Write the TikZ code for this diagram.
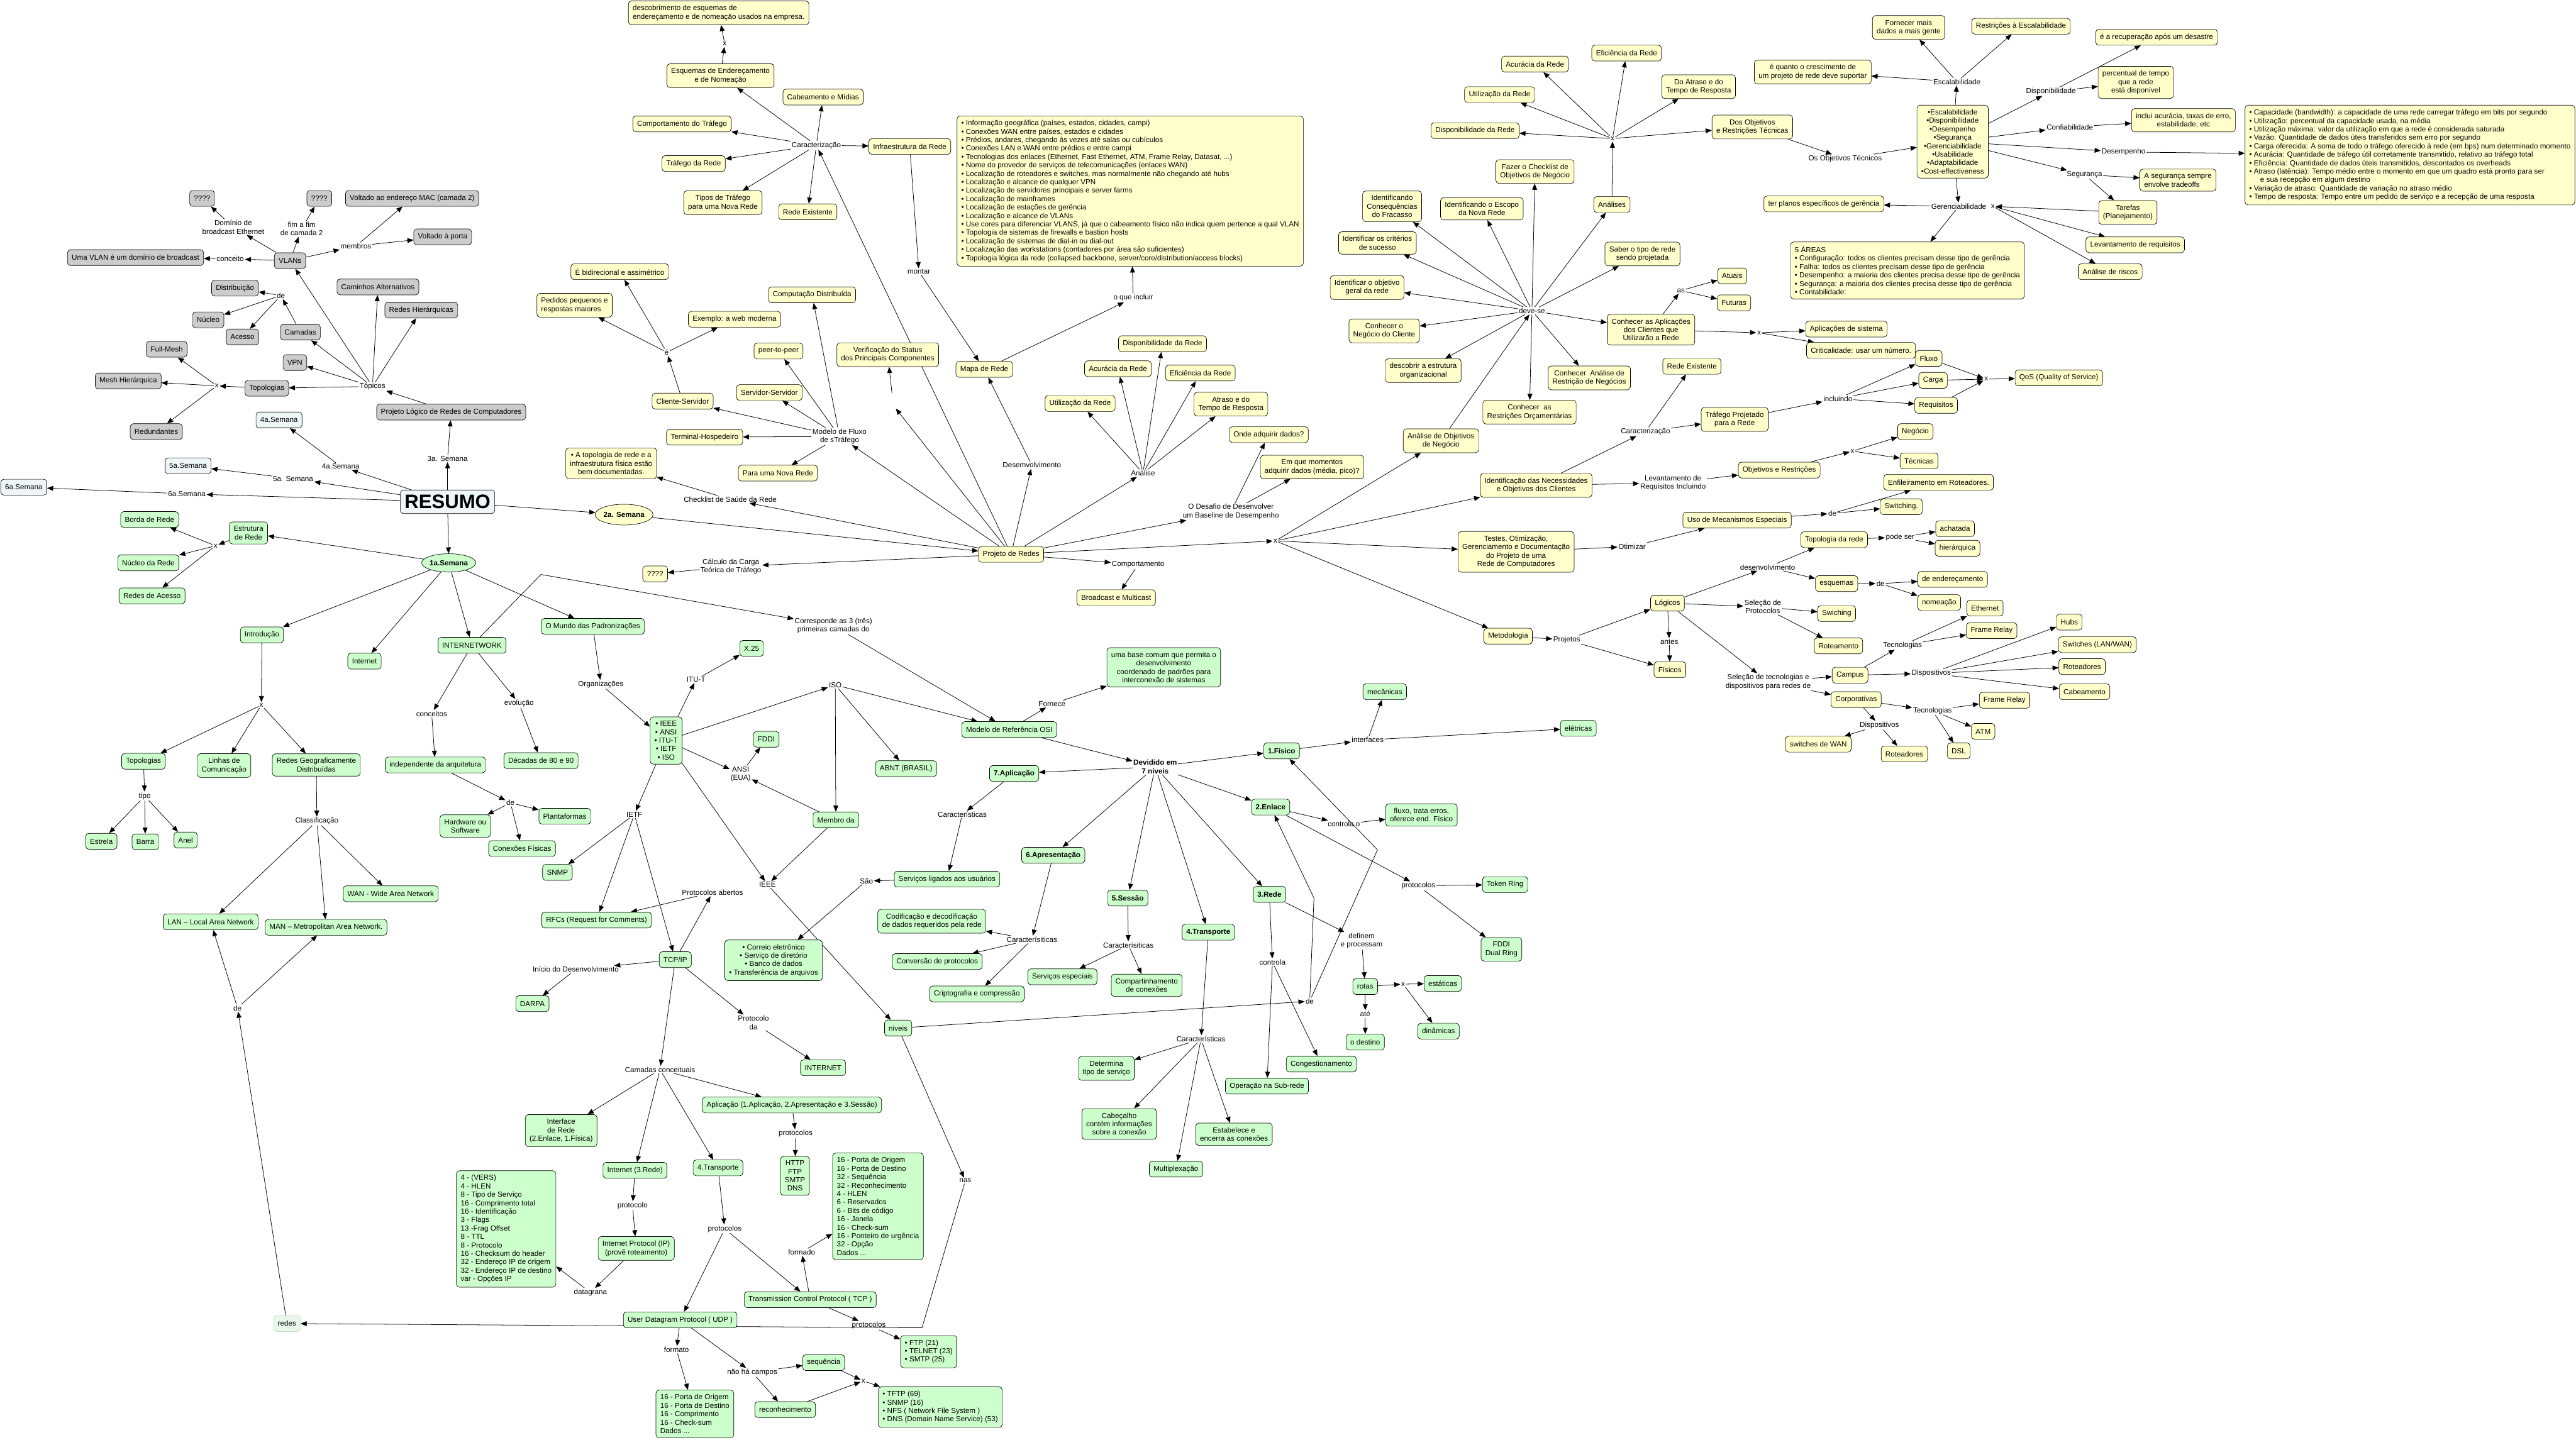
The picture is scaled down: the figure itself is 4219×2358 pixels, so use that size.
\documentclass[tikz,border=0pt]{standalone}
\usepackage{fontspec}
\setmainfont{Liberation Sans}
\usetikzlibrary{
  arrows.meta,
  positioning,
  shapes.geometric,
  backgrounds,
}
\definecolor{grayfill}{RGB}{204,204,204}
\definecolor{yellowfill}{RGB}{255,255,204}
\definecolor{greenfill}{RGB}{204,255,204}
\definecolor{weekfill}{RGB}{238,246,248}
\definecolor{redesfill}{RGB}{232,246,236}
\definecolor{redesdraw}{RGB}{196,228,206}
\newcommand{\mapfont}{\fontsize{12}{13.8}\selectfont}
\tikzset{
  concept/.style={
    rectangle, draw=black, line width=0.7pt, rounded corners=5pt,
    font=\mapfont, align=center, inner xsep=7pt, inner ysep=7pt,
    minimum height=26pt
  },
  grayconcept/.style={concept, fill=grayfill},
  yellowconcept/.style={concept, fill=yellowfill},
  greenconcept/.style={concept, fill=greenfill},
  weekconcept/.style={concept, fill=weekfill},
  layerconcept/.style={greenconcept, font=\mapfont\bfseries},
  weekellipse/.style={
    ellipse, draw=black, line width=0.7pt,
    font=\mapfont\bfseries, inner sep=0pt
  },
  redesnode/.style={concept, fill=redesfill, draw=redesdraw},
  phrase/.style={font=\mapfont, align=center, inner sep=1.5pt},
  link/.style={-{Triangle[length=10pt, width=8pt]}, line width=0.8pt},
}

\begin{document}
\begin{tikzpicture}[x=1pt, y=-1pt]

  \useasboundingbox (0,0) rectangle (4219,2358);

  % ── RESUMO and the weeks ──
  \node[weekconcept, font=\fontsize{32}{36}\selectfont\bfseries, inner ysep=8pt] (resumo) at (733,822) {RESUMO};
  \node[weekellipse, fill=yellowfill, minimum width=94pt, minimum height=34pt] (sem2) at (1022,843) {2a. Semana};
  \node[weekellipse, fill=greenfill, minimum width=82pt, minimum height=30pt] (sem1) at (735,922) {1a.Semana};
  \node[weekconcept] (sem4) at (457,688) {4a.Semana};
  \node[weekconcept] (sem5) at (308,763) {5a.Semana};
  \node[weekconcept] (sem6) at (39,798) {6a.Semana};
  \node[phrase] (l3sem) at (733,751) {3a. Semana};
  \node[phrase] (l4sem) at (558,764) {4a.Semana};
  \node[phrase] (l5sem) at (480,784) {5a. Semana};
  \node[phrase] (l6sem) at (306,809) {6a.Semana};

  % ── 3a. Semana: projeto logico (gray) ──
  \node[grayconcept] (plogico) at (739,675) {Projeto Lógico de Redes de Computadores};
  \node[phrase] (topicos) at (610,633) {Tópicos};
  \node[grayconcept] (vlans) at (475,427) {VLANs};
  \node[phrase] (lconceito) at (377,424) {conceito};
  \node[grayconcept] (vlandom) at (222,422) {Uma VLAN é um domínio de broadcast};
  \node[phrase] (ldominio) at (382,372) {Domínio de\\broadcast Ethernet};
  \node[grayconcept] (q1) at (331,325) {????};
  \node[phrase] (lfim) at (494,375) {fim a fim\\de camada 2};
  \node[grayconcept] (q2) at (523,325) {????};
  \node[phrase] (lmembros) at (583,403) {membros};
  \node[grayconcept] (vmac) at (675,325) {Voltado ao endereço MAC (camada 2)};
  \node[grayconcept] (vporta) at (725,388) {Voltado à porta};
  \node[grayconcept] (camadas) at (492,544) {Camadas};
  \node[phrase] (lcamde) at (460,484) {de};
  \node[grayconcept] (distrib) at (385,472) {Distribuição};
  \node[grayconcept] (nucleo) at (341,524) {Núcleo};
  \node[grayconcept] (acesso) at (397,552) {Acesso};
  \node[grayconcept] (caminhos) at (619,470) {Caminhos Alternativos};
  \node[grayconcept] (redhier) at (690,508) {Redes Hierárquicas};
  \node[grayconcept] (vpn) at (483,594) {VPN};
  \node[grayconcept] (topol) at (437,636) {Topologias};
  \node[phrase] (ltopx) at (355,632) {x};
  \node[grayconcept] (fullmesh) at (273,572) {Full-Mesh};
  \node[grayconcept] (meshhier) at (210,624) {Mesh Hierárquica};
  \node[grayconcept] (redund) at (256,707) {Redundantes};

  % ── 1a. Semana: fundamentos (green) ──
  \node[greenconcept] (estrut) at (407,873) {Estrutura\\de Rede};
  \node[phrase] (lestx) at (353,894) {x};
  \node[greenconcept] (borda) at (245,851) {Borda de Rede};
  \node[greenconcept] (nucrede) at (243,922) {Núcleo da Rede};
  \node[greenconcept] (redacesso) at (249,976) {Redes de Acesso};
  \node[greenconcept] (intro) at (429,1040) {Introdução};
  \node[greenconcept] (internet) at (597,1083) {Internet};
  \node[greenconcept] (internetw) at (773,1057) {INTERNETWORK};
  \node[greenconcept] (mundo) at (971,1026) {O Mundo das Padronizações};
  \node[phrase] (lintx) at (428,1155) {x};
  \node[greenconcept] (topogreen) at (235,1247) {Topologias};
  \node[greenconcept] (linhas) at (367,1254) {Linhas de\\Comunicação};
  \node[greenconcept] (redgeo) at (518,1253) {Redes Geograficamente\\Distribuídas};
  \node[phrase] (ltipo) at (237,1304) {tipo};
  \node[greenconcept] (estrela) at (166,1378) {Estrela};
  \node[greenconcept] (barra) at (238,1379) {Barra};
  \node[greenconcept] (anel) at (304,1376) {Anel};
  \node[phrase] (lclass) at (519,1345) {Classificação};
  \node[greenconcept] (lan) at (345,1510) {LAN – Local Area Network};
  \node[greenconcept] (man) at (534,1519) {MAN – Metropolitan Area Network.};
  \node[greenconcept] (wan) at (640,1464) {WAN - Wide Area Network};
  \node[phrase] (lconceitos) at (707,1169) {conceitos};
  \node[greenconcept] (indep) at (713,1253) {independente da arquitetura};
  \node[phrase] (lindde) at (836,1315) {de};
  \node[greenconcept] (hardw) at (762,1353) {Hardware ou\\Software};
  \node[greenconcept] (plataf) at (925,1337) {Plantaformas};
  \node[greenconcept] (conexf) at (855,1390) {Conexões Físicas};
  \node[phrase] (levol) at (850,1152) {evolução};
  \node[greenconcept] (decadas) at (886,1246) {Décadas de 80 e 90};
  \node[phrase] (lorgs) at (984,1121) {Organizações};
  \node[greenconcept] (orgs) at (1091,1213) {• IEEE\\• ANSI\\• ITU-T\\• IETF\\• ISO};
  \node[phrase] (litut) at (1140,1113) {ITU-T};
  \node[greenconcept] (x25) at (1231,1062) {X.25};
  \node[phrase] (liso) at (1368,1122) {ISO};
  \node[phrase] (lansi) at (1213,1268) {ANSI\\(EUA)};
  \node[greenconcept] (fddi) at (1255,1211) {FDDI};
  \node[greenconcept] (abnt) at (1484,1259) {ABNT (BRASIL)};
  \node[greenconcept] (membro) at (1369,1343) {Membro da};
  \node[phrase] (lieee) at (1257,1449) {IEEE};
  \node[phrase] (lietf) at (1039,1334) {IETF};
  \node[greenconcept] (snmp) at (913,1429) {SNMP};
  \node[greenconcept] (rfcs) at (977,1507) {RFCs (Request for Comments)};
  \node[greenconcept] (tcpip) at (1106,1572) {TCP/IP};
  \node[phrase] (lprotab) at (1167,1462) {Protocolos abertos};
  \node[phrase] (linicio) at (943,1588) {Início do Desenvolvimento};
  \node[greenconcept] (darpa) at (872,1644) {DARPA};
  \node[phrase] (lprotda) at (1234,1675) {Protocolo\\da};
  \node[greenconcept] (internetcap) at (1348,1749) {INTERNET};
  \node[phrase] (lcamconc) at (1081,1752) {Camadas conceituais};
  \node[greenconcept] (ifrede) at (919,1852) {Interface\\de Rede\\(2.Enlace, 1.Física)};
  \node[greenconcept] (inet3) at (1040,1917) {Internet (3.Rede)};
  \node[greenconcept] (transp4) at (1176,1913) {4.Transporte};
  \node[greenconcept] (aplic) at (1297,1810) {Aplicação (1.Aplicação, 2.Apresentação e 3.Sessão)};
  \node[phrase] (lprotsap) at (1303,1857) {protocolos};
  \node[greenconcept] (httpbox) at (1302,1926) {HTTP\\FTP\\SMTP\\DNS};
  \node[phrase] (lprotoip) at (1036,1975) {protocolo};
  \node[greenconcept] (ipproto) at (1042,2045) {Internet Protocol (IP)\\(provê roteamento)};
  \node[phrase] (ldatag) at (967,2117) {datagrana};
  \node[greenconcept, align=left] (ipheader) at (829,2013) {4 - (VERS)\\4 - HLEN\\8 - Tipo de Serviço\\16 - Comprimento total\\16 - Identificação\\3 - Flags\\13 -Frag Offset\\8 - TTL\\8 - Protocolo\\16 - Checksum do header\\32 - Endereço IP de origem\\32 - Endereço IP de destino\\var - Opções IP};
  \node[phrase] (lprotstr) at (1187,2013) {protocolos};
  \node[greenconcept] (tcp) at (1327,2129) {Transmission Control Protocol ( TCP )};
  \node[greenconcept] (udp) at (1114,2162) {User Datagram Protocol ( UDP )};
  \node[phrase] (lformado) at (1313,2051) {formado};
  \node[greenconcept, align=left] (tcpheader) at (1438,1976) {16 - Porta de Origem\\16 - Porta de Destino\\32 - Sequência\\32 - Reconhecimento\\4 - HLEN\\6 - Reservados\\6 - Bits de código\\16 - Janela\\16 - Check-sum\\16 - Ponteiro de urgência\\32 - Opção\\Dados ...};
  \node[phrase] (lprottcp) at (1423,2171) {protocolos};
  \node[greenconcept, align=left] (ftpbox) at (1521,2214) {• FTP (21)\\• TELNET (23)\\• SMTP (25)};
  \node[phrase] (lformato) at (1108,2211) {formato};
  \node[greenconcept, align=left] (udpheader) at (1138,2316) {16 - Porta de Origem\\16 - Porta de Destino\\16 - Comprimento\\16 - Check-sum\\Dados ...};
  \node[phrase] (lnaoha) at (1232,2248) {não há campos};
  \node[greenconcept] (seq) at (1349,2232) {sequência};
  \node[greenconcept] (recon) at (1286,2309) {reconhecimento};
  \node[phrase] (lseqx) at (1414,2262) {x};
  \node[greenconcept, align=left] (tftpbox) at (1540,2305) {• TFTP (69)\\• SNMP (16)\\• NFS ( Network File System )\\• DNS (Domain Name Service) (53)};
  \node[redesnode] (redes) at (470,2168) {redes};
  \node[phrase] (lredesde) at (389,1651) {de};

  % ── Modelo OSI and its seven layers ──
  \node[phrase] (lcorresp) at (1365,1025) {Corresponde as 3 (três)\\primeiras camadas do};
  \node[greenconcept] (osi) at (1653,1195) {Modelo de Referência OSI};
  \node[phrase] (lfornece) at (1723,1153) {Fornece};
  \node[greenconcept] (basecomum) at (1906,1093) {uma base comum que permita o\\desenvolvimento\\coordenado de padrões para\\interconexão de sistemas};
  \node[phrase, font=\mapfont\bfseries] (ldivid) at (1892,1256) {Devidido em\\7 níveis};
  \node[layerconcept] (apl7) at (1661,1267) {7.Aplicação};
  \node[phrase] (lcar7) at (1576,1334) {Características};
  \node[greenconcept] (servusu) at (1551,1440) {Serviços ligados aos usuários};
  \node[phrase] (lsao) at (1419,1443) {São};
  \node[greenconcept] (correio) at (1267,1573) {• Correio eletrônico\\• Serviço de diretório\\• Banco de dados\\• Transferência de arquivos};
  \node[layerconcept] (apr6) at (1725,1401) {6.Apresentação};
  \node[phrase] (lcar6) at (1690,1539) {Caracterísiticas};
  \node[greenconcept] (codif) at (1526,1509) {Codificação e decodificação\\de dados requeridos pela rede};
  \node[greenconcept] (convprot) at (1535,1575) {Conversão de protocolos};
  \node[greenconcept] (cripto) at (1600,1628) {Criptografia e compressão};
  \node[layerconcept] (ses5) at (1847,1471) {5.Sessão};
  \node[phrase] (lcar5) at (1848,1548) {Caracterísiticas};
  \node[greenconcept] (servesp) at (1740,1600) {Serviços especiais};
  \node[greenconcept] (compart) at (1878,1614) {Compartinhamento\\de conexões};
  \node[layerconcept] (tra4) at (1979,1527) {4.Transporte};
  \node[phrase] (lcar4) at (1967,1702) {Características};
  \node[greenconcept] (determ) at (1812,1750) {Determina\\tipo de serviço};
  \node[greenconcept] (cabec) at (1833,1841) {Cabeçalho\\contém informações\\sobre a conexão};
  \node[greenconcept] (multip) at (1926,1915) {Multiplexação};
  \node[greenconcept] (estab) at (2021,1858) {Estabelece e\\encerra as conexões};
  \node[layerconcept] (red3) at (2079,1465) {3.Rede};
  \node[phrase] (lcontrola) at (2084,1576) {controla};
  \node[greenconcept] (opsub) at (2075,1779) {Operação na Sub-rede};
  \node[greenconcept] (congest) at (2164,1743) {Congestionamento};
  \node[phrase] (ldefinem) at (2230,1541) {definem\\e processam};
  \node[greenconcept] (rotas) at (2236,1616) {rotas};
  \node[phrase] (lrotx) at (2298,1612) {x};
  \node[greenconcept] (estat) at (2363,1611) {estáticas};
  \node[greenconcept] (dinam) at (2356,1689) {dinâmicas};
  \node[phrase] (late) at (2236,1661) {até};
  \node[greenconcept] (destino) at (2236,1707) {o destino};
  \node[greenconcept] (niveis) at (1471,1684) {niveis};
  \node[phrase] (lnas) at (1581,1934) {nas};
  \node[phrase] (lnivde) at (2145,1640) {de};
  \node[layerconcept] (fis1) at (2099,1230) {1.Físico};
  \node[phrase] (linterf) at (2240,1212) {interfaces};
  \node[greenconcept] (mecan) at (2268,1133) {mecânicas};
  \node[greenconcept] (eletr) at (2585,1193) {elétricas};
  \node[layerconcept] (enl2) at (2081,1322) {2.Enlace};
  \node[phrase] (lcontrolao) at (2201,1350) {controla o};
  \node[greenconcept] (fluxo) at (2328,1335) {fluxo, trata erros,\\oferece end. Físico};
  \node[phrase] (lprotenl) at (2323,1451) {protocolos};
  \node[greenconcept] (token) at (2465,1449) {Token Ring};
  \node[greenconcept] (fddiring) at (2459,1555) {FDDI\\Dual Ring};

  % ── 2a. Semana: projeto de redes (yellow) ──
  \node[yellowconcept] (projredes) at (1656,908) {Projeto de Redes};
  \node[phrase] (lcheck) at (1196,818) {Checklist de Saúde da Rede};
  \node[yellowconcept] (topodoc) at (1001,759) {• A topologia de rede e a\\infraestrutura física estão\\bem documentadas.};
  \node[phrase] (lcalc) at (1197,928) {Cálculo da Carga\\Teórica de Tráfego};
  \node[yellowconcept] (q3) at (1073,940) {????};
  \node[phrase] (lcomport) at (1864,925) {Comportamento};
  \node[yellowconcept] (broadc) at (1828,979) {Broadcast e Multicast};
  \node[phrase] (ldesafio) at (2016,838) {O Desafio de Desenvolver\\um Baseline de Desempenho};
  \node[yellowconcept] (onde) at (2078,712) {Onde adquirir dados?};
  \node[yellowconcept] (emque) at (2149,765) {Em que momentos\\adquirir dados (média, pico)?};
  \node[phrase] (lprojx) at (2089,886) {x};
  \node[phrase] (ldesenv) at (1690,762) {Desemvolvimento};
  \node[yellowconcept] (mapa) at (1612,605) {Mapa de Rede};
  \node[phrase] (lanalise) at (1872,775) {Análise};
  \node[yellowconcept] (utiliz) at (1769,661) {Utilização da Rede};
  \node[yellowconcept] (acur) at (1831,604) {Acurácia da Rede};
  \node[yellowconcept] (dispon) at (1904,563) {Disponibilidade da Rede};
  \node[yellowconcept] (efic) at (1966,611) {Eficiência da Rede};
  \node[yellowconcept] (atraso) at (2016,662) {Atraso e do\\Tempo de Resposta};
  \node[phrase] (lmodelo) at (1375,715) {Modelo de Fluxo\\de sTráfego};
  \node[yellowconcept] (cliserv) at (1118,657) {Cliente-Servidor};
  \node[yellowconcept] (servserv) at (1260,643) {Servidor-Servidor};
  \node[yellowconcept] (p2p) at (1275,575) {peer-to-peer};
  \node[yellowconcept] (compdist) at (1330,483) {Computação Distribuída};
  \node[yellowconcept] (termhosp) at (1154,716) {Terminal-Hospedeiro};
  \node[yellowconcept] (novarede) at (1274,775) {Para uma Nova Rede};
  \node[phrase] (le) at (1092,577) {é};
  \node[yellowconcept] (bidir) at (1015,445) {É bidirecional e assimétrico};
  \node[yellowconcept, align=left] (pedidos) at (941,500) {Pedidos pequenos e\\respostas maiores};
  \node[yellowconcept] (exweb) at (1203,523) {Exemplo: a web moderna};
  \node[yellowconcept] (verif) at (1454,581) {Verificação do Status\\dos Principais Componentes};
  \node[phrase, minimum width=8pt, minimum height=40pt] (lvazio) at (1463,664) {};
  \node[phrase] (lcaract) at (1337,238) {Caracterização};
  \node[yellowconcept] (esquemas) at (1180,124) {Esquemas de Endereçamento\\e de Nomeação};
  \node[phrase] (lesqx) at (1187,72) {x};
  \node[yellowconcept, align=left] (descob) at (1177,21) {descobrimento de esquemas de\\endereçamento e de nomeação usados na empresa.};
  \node[yellowconcept] (cabeam) at (1348,159) {Cabeamento e Mídias};
  \node[yellowconcept] (comptraf) at (1117,203) {Comportamento do Tráfego};
  \node[yellowconcept] (trafrede) at (1136,268) {Tráfego da Rede};
  \node[yellowconcept] (tipostraf) at (1184,332) {Tipos de Tráfego\\para uma Nova Rede};
  \node[yellowconcept] (redeexist) at (1323,347) {Rede Existente};
  \node[yellowconcept] (infra) at (1490,240) {Infraestrutura da Rede};
  \node[phrase] (lmontar) at (1505,445) {montar};
  \node[phrase] (lincluir) at (1856,488) {o que incluir};
  \node[yellowconcept, align=left] (infolist) at (1851,313) {%
    • Informação geográfica (países, estados, cidades, campi)\\
    • Conexões WAN entre países, estados e cidades\\
    • Prédios, andares, chegando às vezes até salas ou cubículos\\
    • Conexões LAN e WAN entre prédios e entre campi\\
    • Tecnologias dos enlaces (Ethernet, Fast Ethernet, ATM, Frame Relay, Datasat, ...)\\
    • Nome do provedor de serviços de telecomunicações (enlaces WAN)\\
    • Localização de roteadores e switches, mas normalmente não chegando até hubs\\
    • Localização e alcance de qualquer VPN\\
    • Localização de servidores principais e server farms\\
    • Localização de mainframes\\
    • Localização de estações de gerência\\
    • Localização e alcance de VLANs\\
    • Use cores para diferenciar VLANS, já que o cabeamento físico não indica quem pertence a qual VLAN\\
    • Topologia de sistemas de firewalls e bastion hosts\\
    • Localização de sistemas de dial-in ou dial-out\\
    • Localização das workstations (contadores por área são suficientes)\\
    • Topologia lógica da rede (collapsed backbone, server/core/distribution/access blocks)};

  % ── Objetivos de negocio ──
  \node[yellowconcept] (anobj) at (2360,722) {Análise de Objetivos\\de Negócio};
  \node[phrase] (ldevese) at (2509,509) {deve-se};
  \node[yellowconcept] (idconseq) at (2280,338) {Identificando\\Consequências\\do Fracasso};
  \node[yellowconcept] (idescopo) at (2427,342) {Identificando o Escopo\\da Nova Rede};
  \node[yellowconcept] (fazer) at (2514,281) {Fazer o Checklist de\\Objetivos de Negócio};
  \node[yellowconcept] (analises) at (2640,335) {Análises};
  \node[yellowconcept] (idcrit) at (2256,398) {Identificar os critérios\\de sucesso};
  \node[yellowconcept] (saber) at (2690,416) {Saber o tipo de rede\\sendo projetada};
  \node[yellowconcept] (idobj) at (2239,471) {Identificar o objetivo\\geral da rede};
  \node[yellowconcept] (conneg) at (2267,542) {Conhecer o\\Negócio do Cliente};
  \node[yellowconcept] (conapl) at (2704,540) {Conhecer as Aplicações\\dos Clientes que\\Utilizarão a Rede};
  \node[yellowconcept] (descest) at (2331,607) {descobrir a estrutura\\organizacional};
  \node[yellowconcept] (conrestr) at (2603,619) {Conhecer\ \ Análise de\\Restrição de Negócios};
  \node[yellowconcept] (conorc) at (2505,675) {Conhecer\ \ as\\Restrições Orçamentárias};
  \node[phrase] (lanx) at (2641,227) {x};
  \node[yellowconcept] (dispred) at (2416,214) {Disponibilidade da Rede};
  \node[yellowconcept] (utilred) at (2456,155) {Utilização da Rede};
  \node[yellowconcept] (acurred) at (2514,105) {Acurácia da Rede};
  \node[yellowconcept] (eficred) at (2664,87) {Eficiência da Rede};
  \node[yellowconcept] (doatraso) at (2782,142) {Do Atraso e do\\Tempo de Resposta};
  \node[yellowconcept] (dosobj) at (2870,208) {Dos Objetivos\\e Restrições Técnicas};
  \node[phrase] (lobjtec) at (3022,260) {Os Objetivos Técnicos};
  \node[yellowconcept] (objlist) at (3198,232) {•Escalabilidade\\•Disponibilidade\\•Desempenho\\•Segurança\\•Gerenciabilidade\\•Usabilidade\\•Adaptabilidade\\•Cost-effectiveness};
  \node[phrase] (lescal) at (3205,134) {Escalabilidade};
  \node[yellowconcept] (fornecer) at (3126,45) {Fornecer mais\\dados a mais gente};
  \node[yellowconcept] (restresc) at (3310,43) {Restrições à Escalabilidade};
  \node[yellowconcept] (equanto) at (2969,118) {é quanto o crescimento de\\um projeto de rede deve suportar};
  \node[phrase] (ldispon) at (3359,150) {Disponibilidade};
  \node[yellowconcept] (recup) at (3532,61) {é a recuperação após um desastre};
  \node[yellowconcept] (percent) at (3498,135) {percentual de tempo\\que a rede\\está disponível};
  \node[phrase] (lconfiab) at (3390,208) {Confiabilidade};
  \node[yellowconcept] (inclui) at (3576,197) {inclui acurácia, taxas de erro,\\estabilidade, etc};
  \node[phrase] (ldesemp) at (3478,249) {Desempenho};
  \node[yellowconcept, align=left] (perflist) at (3947,254) {%
    • Capacidade (bandwidth): a capacidade de uma rede carregar tráfego em bits por segundo\\
    • Utilização: percentual da capacidade usada, na média\\
    • Utilização máxima: valor da utilização em que a rede é considerada saturada\\
    • Vazão: Quantidade de dados úteis transferidos sem erro por segundo\\
    • Carga oferecida: A soma de todo o tráfego oferecido à rede (em bps) num determinado momento\\
    • Acurácia: Quantidade de tráfego útil corretamente transmitido, relativo ao tráfego total\\
    • Eficiência: Quantidade de dados úteis transmitidos, descontados os overheads\\
    • Atraso (latência): Tempo médio entre o momento em que um quadro está pronto para ser\\
    \hspace*{1.5em}e sua recepção em algum destino\\
    • Variação de atraso: Quantidade de variação no atraso médio\\
    • Tempo de resposta: Tempo entre um pedido de serviço e a recepção de uma resposta};
  \node[phrase] (lseg) at (3414,286) {Segurança};
  \node[yellowconcept, align=left] (segsempre) at (3567,295) {A segurança sempre\\envolve tradeoffs};
  \node[yellowconcept] (tarefas) at (3485,348) {Tarefas\\(Planejamento)};
  \node[phrase] (lgerenc) at (3208,338) {Gerenciabilidade};
  \node[phrase] (ltarx) at (3264,338) {x};
  \node[yellowconcept] (levreq) at (3497,401) {Levantamento de requisitos};
  \node[yellowconcept] (anriscos) at (3456,445) {Análise de riscos};
  \node[yellowconcept] (terplanos) at (2987,334) {ter planos específicos de gerência};
  \node[yellowconcept, align=left] (areas) at (3124,443) {5 ÁREAS\\• Configuração: todos os clientes precisam desse tipo de gerência\\• Falha: todos os clientes precisam desse tipo de gerência\\• Desempenho: a maioria dos clientes precisa desse tipo de gerência\\• Segurança: a maioria dos clientes precisa desse tipo de gerência\\• Contabilidade:};
  \node[phrase] (las) at (2753,476) {as};
  \node[yellowconcept] (atuais) at (2837,452) {Atuais};
  \node[yellowconcept] (futuras) at (2840,496) {Futuras};
  \node[phrase] (lapx) at (2881,545) {x};
  \node[yellowconcept] (aplsis) at (3024,539) {Aplicações de sistema};
  \node[yellowconcept] (critic) at (3048,574) {Criticalidade: usar um número.};

  % ── Necessidades dos clientes, testes, metodologia ──
  \node[yellowconcept] (idnec) at (2516,795) {Identificação das Necessidades\\e Objetivos dos Clientes};
  \node[phrase] (lcaract2) at (2695,707) {Caracterização};
  \node[yellowconcept] (redeexist2) at (2771,600) {Rede Existente};
  \node[yellowconcept] (trafproj) at (2841,687) {Tráfego Projetado\\para a Rede};
  \node[phrase] (lincluindo) at (3010,653) {incluindo};
  \node[yellowconcept] (fluxob) at (3159,587) {Fluxo};
  \node[yellowconcept] (carga) at (3166,623) {Carga};
  \node[yellowconcept] (requis) at (3171,664) {Requisitos};
  \node[phrase] (lqosx) at (3253,621) {x};
  \node[yellowconcept] (qos) at (3372,619) {QoS (Quality of Service)};
  \node[phrase] (llevant) at (2740,791) {Levantamento de\\Requisitos Incluindo};
  \node[yellowconcept] (objrestr) at (2914,770) {Objetivos e Restrições};
  \node[phrase] (lobjx) at (3034,739) {x};
  \node[yellowconcept] (negocio) at (3137,707) {Negócio};
  \node[yellowconcept] (tecnicas) at (3143,755) {Técnicas};
  \node[yellowconcept] (testes) at (2483,904) {Testes, Otimização,\\Gerenciamento e Documentação\\do Projeto de uma\\Rede de Computadores};
  \node[phrase] (lotim) at (2673,895) {Otimizar};
  \node[yellowconcept] (usomec) at (2845,852) {Uso de Mecanismos Especiais};
  \node[phrase] (lmecde) at (3001,841) {de};
  \node[yellowconcept] (enfil) at (3175,790) {Enfileiramento em Roteadores.};
  \node[yellowconcept] (switching) at (3114,830) {Switching.};
  \node[yellowconcept] (metod) at (2470,1042) {Metodologia};
  \node[phrase] (lprojetos) at (2566,1048) {Projetos};
  \node[yellowconcept] (logicos) at (2731,988) {Lógicos};
  \node[yellowconcept] (fisicos) at (2735,1097) {Físicos};
  \node[phrase] (lantes) at (2734,1051) {antes};
  \node[phrase] (ldesenvolv) at (2895,929) {desenvolvimento};
  \node[yellowconcept] (topored) at (3004,884) {Topologia da rede};
  \node[phrase] (lpodeser) at (3112,880) {pode ser};
  \node[yellowconcept] (achatada) at (3202,866) {achatada};
  \node[yellowconcept] (hierarq) at (3206,898) {hierárquica};
  \node[yellowconcept] (esquemasl) at (3008,956) {esquemas};
  \node[phrase] (lesqde) at (3080,956) {de};
  \node[yellowconcept] (deend) at (3198,949) {de endereçamento};
  \node[yellowconcept] (nomeacao) at (3176,987) {nomeação};
  \node[phrase] (lselprot) at (2887,994) {Seleção de\\Protocolos};
  \node[yellowconcept] (swiching) at (3008,1005) {Swiching};
  \node[yellowconcept] (roteam) at (3011,1058) {Roteamento};
  \node[phrase] (lseltec) at (2896,1117) {Seleção de tecnologias e\\dispositivos para redes de};
  \node[yellowconcept] (campus) at (3030,1106) {Campus};
  \node[yellowconcept] (corpor) at (3040,1146) {Corporativas};
  \node[phrase] (ltecc) at (3116,1057) {Tecnologias};
  \node[yellowconcept] (ethernet) at (3251,996) {Ethernet};
  \node[yellowconcept] (framec) at (3262,1033) {Frame Relay};
  \node[phrase] (ldispc) at (3163,1103) {Dispositivos};
  \node[yellowconcept] (hubs) at (3389,1019) {Hubs};
  \node[yellowconcept] (switches) at (3435,1056) {Switches (LAN/WAN)};
  \node[yellowconcept] (roteadc) at (3410,1092) {Roteadores};
  \node[yellowconcept] (cabeamc) at (3414,1133) {Cabeamento};
  \node[phrase] (ltecw) at (3165,1164) {Tecnologias};
  \node[yellowconcept] (framew) at (3283,1147) {Frame Relay};
  \node[yellowconcept] (atm) at (3248,1198) {ATM};
  \node[yellowconcept] (dsl) at (3208,1230) {DSL};
  \node[phrase] (ldispw) at (3078,1188) {Dispositivos};
  \node[yellowconcept] (swwan) at (2978,1219) {switches de WAN};
  \node[yellowconcept] (roteadw) at (3119,1235) {Roteadores};

  % ── Bend points of the curved connectors ──
  \coordinate (bendcorr) at (886,941);
  \coordinate (bendnas) at (1510,2175);
  \coordinate (bendfis) at (2256,1392);
  \coordinate (bendenl) at (2152,1471);

  \begin{scope}[on background layer]
    \fill[white] (0,0) rectangle (4219,2358);

    % ── RESUMO edges ──
    \draw[link] (resumo) -- (l3sem);
    \draw[link] (l3sem) -- (plogico);
    \draw[link] (resumo) -- (l4sem);
    \draw[link] (l4sem) -- (sem4);
    \draw[link] (resumo) -- (l5sem);
    \draw[link] (l5sem) -- (sem5);
    \draw[link] (resumo) -- (l6sem);
    \draw[link] (l6sem) -- (sem6);
    \draw[link] (resumo) -- (sem1);
    \draw[link] (resumo) -- (sem2);

    % ── 3a. Semana edges ──
    \draw[link] (plogico) -- (topicos);
    \draw[link] (topicos) -- (vlans);
    \draw[link] (topicos) -- (camadas);
    \draw[link] (topicos) -- (caminhos);
    \draw[link] (topicos) -- (redhier);
    \draw[link] (topicos) -- (vpn);
    \draw[link] (topicos) -- (topol);
    \draw[link] (vlans) -- (lconceito);
    \draw[link] (lconceito) -- (vlandom);
    \draw[link] (vlans) -- (ldominio);
    \draw[link] (ldominio) -- (q1);
    \draw[link] (vlans) -- (lfim);
    \draw[link] (lfim) -- (q2);
    \draw[link] (vlans) -- (lmembros);
    \draw[link] (lmembros) -- (vmac);
    \draw[link] (lmembros) -- (vporta);
    \draw[link] (camadas) -- (lcamde);
    \draw[link] (lcamde) -- (distrib);
    \draw[link] (lcamde) -- (nucleo);
    \draw[link] (lcamde) -- (acesso);
    \draw[link] (topol) -- (ltopx);
    \draw[link] (ltopx) -- (fullmesh);
    \draw[link] (ltopx) -- (meshhier);
    \draw[link] (ltopx) -- (redund);

    % ── 1a. Semana edges ──
    \draw[link] (sem1) -- (estrut);
    \draw[link] (estrut) -- (lestx);
    \draw[link] (lestx) -- (borda);
    \draw[link] (lestx) -- (nucrede);
    \draw[link] (lestx) -- (redacesso);
    \draw[link] (sem1) -- (intro);
    \draw[link] (sem1) -- (internet);
    \draw[link] (sem1) -- (internetw);
    \draw[link] (sem1) -- (mundo);
    \draw[link] (intro) -- (lintx);
    \draw[link] (lintx) -- (topogreen);
    \draw[link] (lintx) -- (linhas);
    \draw[link] (lintx) -- (redgeo);
    \draw[link] (topogreen) -- (ltipo);
    \draw[link] (ltipo) -- (estrela);
    \draw[link] (ltipo) -- (barra);
    \draw[link] (ltipo) -- (anel);
    \draw[link] (redgeo) -- (lclass);
    \draw[link] (lclass) -- (lan);
    \draw[link] (lclass) -- (man);
    \draw[link] (lclass) -- (wan);
    \draw[link] (internetw) -- (lconceitos);
    \draw[link] (lconceitos) -- (indep);
    \draw[link] (indep) -- (lindde);
    \draw[link] (lindde) -- (hardw);
    \draw[link] (lindde) -- (plataf);
    \draw[link] (lindde) -- (conexf);
    \draw[link] (internetw) -- (levol);
    \draw[link] (levol) -- (decadas);
    \draw[link] (internetw) -- (bendcorr) -- (lcorresp);
    \draw[link] (lcorresp) -- (osi);
    \draw[link] (mundo) -- (lorgs);
    \draw[link] (lorgs) -- (orgs);
    \draw[link] (orgs) -- (litut);
    \draw[link] (litut) -- (x25);
    \draw[link] (orgs) -- (liso);
    \draw[link] (orgs) -- (lansi);
    \draw[link] (lansi) -- (fddi);
    \draw[link] (orgs) -- (lietf);
    \draw[link] (orgs) -- (lieee);
    \draw[link] (liso) -- (membro);
    \draw[link] (liso) -- (abnt);
    \draw[link] (liso) -- (osi);
    \draw[link] (membro) -- (lansi);
    \draw[link] (membro) -- (lieee);
    \draw[link] (lietf) -- (snmp);
    \draw[link] (lietf) -- (rfcs);
    \draw[link] (lietf) -- (tcpip);
    \draw[link] (tcpip) -- (lprotab);
    \draw[link] (lprotab) -- (rfcs);
    \draw[link] (tcpip) -- (linicio);
    \draw[link] (linicio) -- (darpa);
    \draw[link] (tcpip) -- (lprotda);
    \draw[link] (lprotda) -- (internetcap);
    \draw[link] (tcpip) -- (lcamconc);
    \draw[link] (lcamconc) -- (ifrede);
    \draw[link] (lcamconc) -- (inet3);
    \draw[link] (lcamconc) -- (transp4);
    \draw[link] (lcamconc) -- (aplic);
    \draw[link] (aplic) -- (lprotsap);
    \draw[link] (lprotsap) -- (httpbox);
    \draw[link] (inet3) -- (lprotoip);
    \draw[link] (lprotoip) -- (ipproto);
    \draw[link] (ipproto) -- (ldatag);
    \draw[link] (ldatag) -- (ipheader);
    \draw[link] (transp4) -- (lprotstr);
    \draw[link] (lprotstr) -- (udp);
    \draw[link] (lprotstr) -- (tcp);
    \draw[link] (tcp) -- (lformado);
    \draw[link] (lformado) -- (tcpheader);
    \draw[link] (tcp) -- (lprottcp);
    \draw[link] (lprottcp) -- (ftpbox);
    \draw[link] (udp) -- (lformato);
    \draw[link] (lformato) -- (udpheader);
    \draw[link] (udp) -- (lnaoha);
    \draw[link] (lnaoha) -- (seq);
    \draw[link] (lnaoha) -- (recon);
    \draw[link] (seq) -- (lseqx);
    \draw[link] (recon) -- (lseqx);
    \draw[link] (lseqx) -- (tftpbox);
    \draw[link] (lieee) -- (niveis);
    \draw[link] (niveis) -- (lnas);
    \draw[link] (lnas) -- (bendnas) -- (redes);
    \draw[link] (redes) -- (lredesde);
    \draw[link] (lredesde) -- (lan);
    \draw[link] (lredesde) -- (man);
    \draw[link] (niveis) -- (lnivde);
    \draw[link] (lnivde) -- (bendfis) -- (fis1);
    \draw[link] (lnivde) -- (bendenl) -- (enl2);

    % ── Modelo OSI edges ──
    \draw[link] (osi) -- (lfornece);
    \draw[link] (lfornece) -- (basecomum);
    \draw[link] (osi) -- (ldivid);
    \draw[link] (ldivid) -- (apl7);
    \draw[link] (ldivid) -- (fis1);
    \draw[link] (ldivid) -- (enl2);
    \draw[link] (ldivid) -- (apr6);
    \draw[link] (ldivid) -- (ses5);
    \draw[link] (ldivid) -- (tra4);
    \draw[link] (ldivid) -- (red3);
    \draw[link] (apl7) -- (lcar7);
    \draw[link] (lcar7) -- (servusu);
    \draw[link] (servusu) -- (lsao);
    \draw[link] (lsao) -- (correio);
    \draw[link] (apr6) -- (lcar6);
    \draw[link] (lcar6) -- (codif);
    \draw[link] (lcar6) -- (convprot);
    \draw[link] (lcar6) -- (cripto);
    \draw[link] (ses5) -- (lcar5);
    \draw[link] (lcar5) -- (servesp);
    \draw[link] (lcar5) -- (compart);
    \draw[link] (tra4) -- (lcar4);
    \draw[link] (lcar4) -- (determ);
    \draw[link] (lcar4) -- (cabec);
    \draw[link] (lcar4) -- (multip);
    \draw[link] (lcar4) -- (estab);
    \draw[link] (red3) -- (lcontrola);
    \draw[link] (lcontrola) -- (opsub);
    \draw[link] (lcontrola) -- (congest);
    \draw[link] (red3) -- (ldefinem);
    \draw[link] (ldefinem) -- (rotas);
    \draw[link] (rotas) -- (lrotx);
    \draw[link] (lrotx) -- (estat);
    \draw[link] (lrotx) -- (dinam);
    \draw[link] (rotas) -- (late);
    \draw[link] (late) -- (destino);
    \draw[link] (fis1) -- (linterf);
    \draw[link] (linterf) -- (mecan);
    \draw[link] (linterf) -- (eletr);
    \draw[link] (enl2) -- (lcontrolao);
    \draw[link] (lcontrolao) -- (fluxo);
    \draw[link] (enl2) -- (lprotenl);
    \draw[link] (lprotenl) -- (token);
    \draw[link] (lprotenl) -- (fddiring);

    % ── 2a. Semana edges ──
    \draw[link] (sem2) -- (projredes);
    \draw[link] (projredes) -- (lcheck);
    \draw[link] (lcheck) -- (topodoc);
    \draw[link] (projredes) -- (lcalc);
    \draw[link] (lcalc) -- (q3);
    \draw[link] (projredes) -- (lcomport);
    \draw[link] (lcomport) -- (broadc);
    \draw[link] (projredes) -- (ldesafio);
    \draw[link] (ldesafio) -- (onde);
    \draw[link] (ldesafio) -- (emque);
    \draw[link] (projredes) -- (lprojx);
    \draw[link] (projredes) -- (ldesenv);
    \draw[link] (ldesenv) -- (mapa);
    \draw[link] (projredes) -- (lanalise);
    \draw[link] (lanalise) -- (utiliz);
    \draw[link] (lanalise) -- (acur);
    \draw[link] (lanalise) -- (dispon);
    \draw[link] (lanalise) -- (efic);
    \draw[link] (lanalise) -- (atraso);
    \draw[link] (projredes) -- (lmodelo);
    \draw[link] (lmodelo) -- (cliserv);
    \draw[link] (lmodelo) -- (servserv);
    \draw[link] (lmodelo) -- (p2p);
    \draw[link] (lmodelo) -- (compdist);
    \draw[link] (lmodelo) -- (termhosp);
    \draw[link] (lmodelo) -- (novarede);
    \draw[link] (cliserv) -- (le);
    \draw[link] (le) -- (bidir);
    \draw[link] (le) -- (pedidos);
    \draw[link] (le) -- (exweb);
    \draw[link] (projredes) -- (lvazio);
    \draw[link] (lvazio) -- (verif);
    \draw[link] (projredes) -- (lcaract);
    \draw[link] (lcaract) -- (esquemas);
    \draw[link] (esquemas) -- (lesqx);
    \draw[link] (lesqx) -- (descob);
    \draw[link] (lcaract) -- (cabeam);
    \draw[link] (lcaract) -- (comptraf);
    \draw[link] (lcaract) -- (trafrede);
    \draw[link] (lcaract) -- (tipostraf);
    \draw[link] (lcaract) -- (redeexist);
    \draw[link] (lcaract) -- (infra);
    \draw[link] (infra) -- (lmontar);
    \draw[link] (lmontar) -- (mapa);
    \draw[link] (mapa) -- (lincluir);
    \draw[link] (lincluir) -- (infolist);

    % ── Objetivos edges ──
    \draw[link] (lprojx) -- (anobj);
    \draw[link] (lprojx) -- (idnec);
    \draw[link] (lprojx) -- (testes);
    \draw[link] (lprojx) -- (metod);
    \draw[link] (anobj) -- (ldevese);
    \draw[link] (ldevese) -- (idconseq);
    \draw[link] (ldevese) -- (idescopo);
    \draw[link] (ldevese) -- (fazer);
    \draw[link] (ldevese) -- (analises);
    \draw[link] (ldevese) -- (idcrit);
    \draw[link] (ldevese) -- (saber);
    \draw[link] (ldevese) -- (idobj);
    \draw[link] (ldevese) -- (conneg);
    \draw[link] (ldevese) -- (conapl);
    \draw[link] (ldevese) -- (descest);
    \draw[link] (ldevese) -- (conrestr);
    \draw[link] (ldevese) -- (conorc);
    \draw[link] (analises) -- (lanx);
    \draw[link] (lanx) -- (dispred);
    \draw[link] (lanx) -- (utilred);
    \draw[link] (lanx) -- (acurred);
    \draw[link] (lanx) -- (eficred);
    \draw[link] (lanx) -- (doatraso);
    \draw[link] (lanx) -- (dosobj);
    \draw[link] (dosobj) -- (lobjtec);
    \draw[link] (lobjtec) -- (objlist);
    \draw[link] (objlist) -- (lescal);
    \draw[link] (lescal) -- (fornecer);
    \draw[link] (lescal) -- (restresc);
    \draw[link] (lescal) -- (equanto);
    \draw[link] (objlist) -- (ldispon);
    \draw[link] (ldispon) -- (recup);
    \draw[link] (ldispon) -- (percent);
    \draw[link] (objlist) -- (lconfiab);
    \draw[link] (lconfiab) -- (inclui);
    \draw[link] (objlist) -- (ldesemp);
    \draw[link] (ldesemp) -- (perflist);
    \draw[link] (objlist) -- (lseg);
    \draw[link] (lseg) -- (segsempre);
    \draw[link] (lseg) -- (tarefas);
    \draw[link] (objlist) -- (lgerenc);
    \draw[link] (lgerenc) -- (terplanos);
    \draw[link] (lgerenc) -- (areas);
    \draw[link] (tarefas) -- (ltarx);
    \draw[link] (ltarx) -- (levreq);
    \draw[link] (ltarx) -- (anriscos);
    \draw[link] (conapl) -- (las);
    \draw[link] (las) -- (atuais);
    \draw[link] (las) -- (futuras);
    \draw[link] (conapl) -- (lapx);
    \draw[link] (lapx) -- (aplsis);
    \draw[link] (lapx) -- (critic);

    % ── Necessidades, testes, metodologia edges ──
    \draw[link] (idnec) -- (lcaract2);
    \draw[link] (lcaract2) -- (redeexist2);
    \draw[link] (lcaract2) -- (trafproj);
    \draw[link] (trafproj) -- (lincluindo);
    \draw[link] (lincluindo) -- (fluxob);
    \draw[link] (lincluindo) -- (carga);
    \draw[link] (lincluindo) -- (requis);
    \draw[link] (fluxob) -- (lqosx);
    \draw[link] (carga) -- (lqosx);
    \draw[link] (requis) -- (lqosx);
    \draw[link] (lqosx) -- (qos);
    \draw[link] (idnec) -- (llevant);
    \draw[link] (llevant) -- (objrestr);
    \draw[link] (objrestr) -- (lobjx);
    \draw[link] (lobjx) -- (negocio);
    \draw[link] (lobjx) -- (tecnicas);
    \draw[link] (testes) -- (lotim);
    \draw[link] (lotim) -- (usomec);
    \draw[link] (usomec) -- (lmecde);
    \draw[link] (lmecde) -- (enfil);
    \draw[link] (lmecde) -- (switching);
    \draw[link] (metod) -- (lprojetos);
    \draw[link] (lprojetos) -- (logicos);
    \draw[link] (lprojetos) -- (fisicos);
    \draw[link] (logicos) -- (lantes);
    \draw[link] (lantes) -- (fisicos);
    \draw[link] (logicos) -- (ldesenvolv);
    \draw[link] (ldesenvolv) -- (topored);
    \draw[link] (ldesenvolv) -- (esquemasl);
    \draw[link] (topored) -- (lpodeser);
    \draw[link] (lpodeser) -- (achatada);
    \draw[link] (lpodeser) -- (hierarq);
    \draw[link] (esquemasl) -- (lesqde);
    \draw[link] (lesqde) -- (deend);
    \draw[link] (lesqde) -- (nomeacao);
    \draw[link] (logicos) -- (lselprot);
    \draw[link] (lselprot) -- (swiching);
    \draw[link] (lselprot) -- (roteam);
    \draw[link] (logicos) -- (lseltec);
    \draw[link] (lseltec) -- (campus);
    \draw[link] (lseltec) -- (corpor);
    \draw[link] (campus) -- (ltecc);
    \draw[link] (ltecc) -- (ethernet);
    \draw[link] (ltecc) -- (framec);
    \draw[link] (campus) -- (ldispc);
    \draw[link] (ldispc) -- (hubs);
    \draw[link] (ldispc) -- (switches);
    \draw[link] (ldispc) -- (roteadc);
    \draw[link] (ldispc) -- (cabeamc);
    \draw[link] (corpor) -- (ltecw);
    \draw[link] (ltecw) -- (framew);
    \draw[link] (ltecw) -- (atm);
    \draw[link] (ltecw) -- (dsl);
    \draw[link] (corpor) -- (ldispw);
    \draw[link] (ldispw) -- (swwan);
    \draw[link] (ldispw) -- (roteadw);
  \end{scope}

\end{tikzpicture}
\end{document}
